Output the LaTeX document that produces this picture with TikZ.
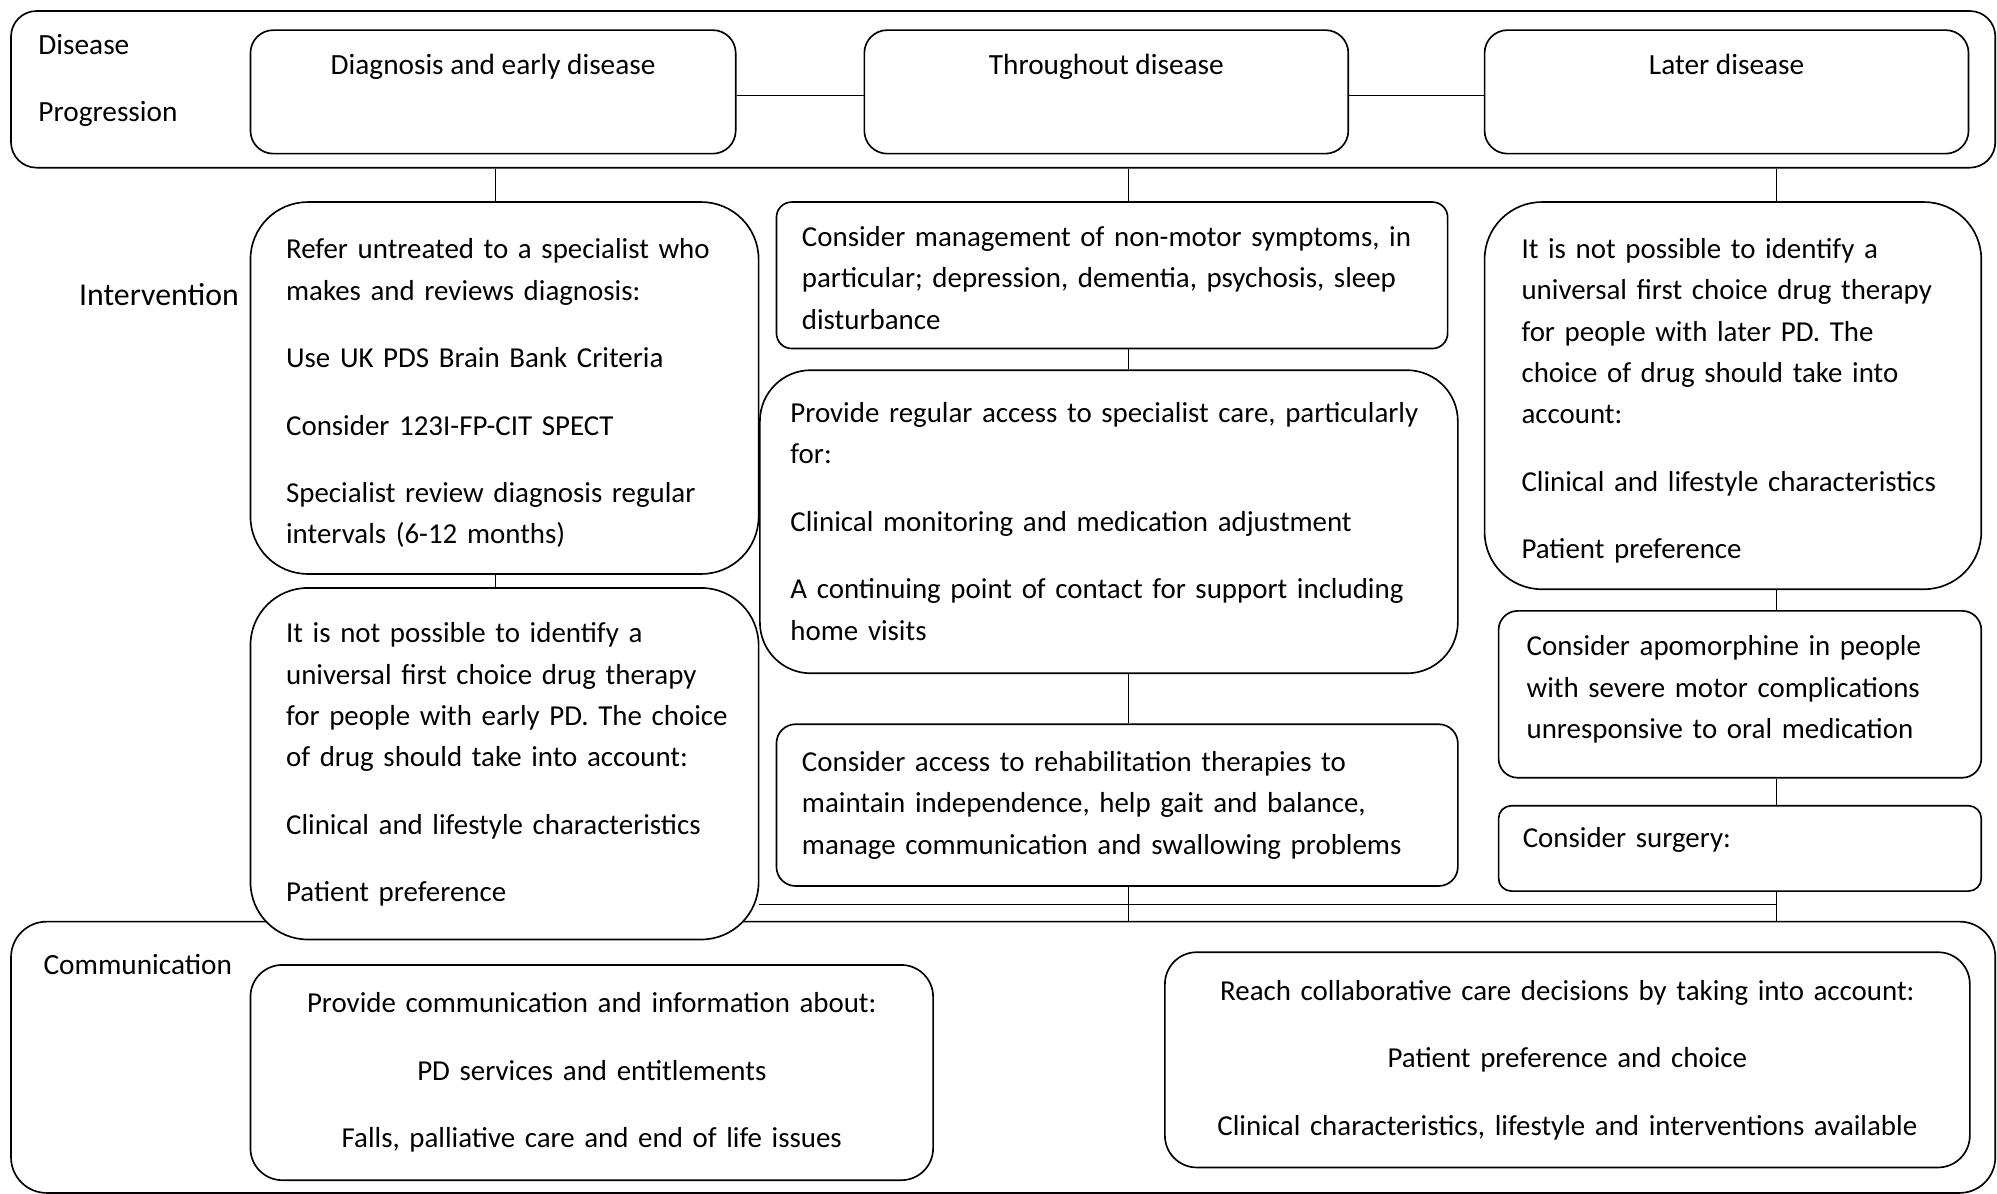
\documentclass[tikz,border=0pt]{standalone}
\usepackage{fontspec}
\setmainfont{Carlito}
\usepackage{tikz}
\usetikzlibrary{backgrounds}
\tikzset{
  band/.style={draw,rounded corners=20pt,anchor=north west,line width=1.3pt,
               inner sep=0pt},
  stage/.style={draw,fill=white,rounded corners=18pt,anchor=north west,line width=1.3pt,
                minimum height=97pt,align=center,text depth=44pt},
  act/.style={draw,fill=white,anchor=north west,line width=1.3pt,align=left,
              inner ysep=0pt,font=\fontsize{22.7}{32.5}\selectfont,text height=24pt},
  talk/.style={draw,fill=white,anchor=north west,line width=1.3pt,align=center,
               rounded corners=25pt,minimum height=169pt,inner ysep=0pt,
               font=\fontsize{22.7}{32.5}\selectfont},
  tag/.style={anchor=west,inner sep=0pt,align=left},
  link/.style={line width=1.2pt},
}

\begin{document}
\begin{tikzpicture}[x=1pt,y=-1pt,every node/.style={font=\fontsize{23}{32.5}\selectfont}]
  \useasboundingbox (0,0) rectangle (1568,937);
  %% Frames
  \node[band,minimum width=1558pt,minimum height=123pt] (prog) at (8,8) {};
  \node[band,minimum width=1558pt,minimum height=213pt,rounded corners=28pt] (comm) at (8,723) {};
  \node[tag] (dis) at (30,63) {Disease\\[20.5pt]Progression};
  \node[tag,font=\fontsize{25}{32.5}\selectfont] (intv) at (62,231) {Intervention};
  \node[tag] (com) at (34,757) {Communication};

  %% Stages
  \node[stage,minimum width=381pt] (diag) at (196,23) {Diagnosis and early disease};
  \node[stage,minimum width=380pt] (thru) at (678,23) {Throughout disease};
  \node[stage,minimum width=380pt] (late) at (1165,23) {Later disease};

  %% Left column
  \node[act,minimum width=399pt,minimum height=292pt,text width=343pt,inner xsep=28pt,
        rounded corners=45pt] (int1) at (196,158)
    {Refer untreated to a specialist who\\makes and reviews diagnosis:\\[20.5pt]
     Use UK PDS Brain Bank Criteria\\[20.5pt]Consider 123I-FP-CIT SPECT\\[20.5pt]
     Specialist review diagnosis regular\\intervals (6-12 months)};
  \node[act,minimum width=399pt,minimum height=276pt,text width=343pt,inner xsep=28pt,
        rounded corners=45pt,text height=17pt] (int2) at (196,461)
    {It is not possible to identify a\\universal first choice drug therapy\\
     \mbox{for people with early PD. The choice}\\of drug should take into account:\\[20.5pt]
     Clinical and lifestyle characteristics\\[20.5pt]Patient preference};

  %% Middle column
  \node[act,minimum width=527pt,minimum height=115pt,text width=487pt,inner xsep=20pt,
        rounded corners=12pt,text height=20pt] (mid1) at (609,158)
    {Consider management of non-motor symptoms, in\\
     particular; depression, dementia, psychosis, sleep\\disturbance};
  \node[act,minimum width=548pt,minimum height=238pt,text width=500pt,inner xsep=24pt,
        rounded corners=40pt,text height=15pt] (mid2) at (596,290)
    {Provide regular access to specialist care, particularly\\for:\\[20.5pt]
     Clinical monitoring and medication adjustment\\[20.5pt]
     A continuing point of contact for support including\\home visits};
  \node[act,minimum width=535pt,minimum height=127pt,text width=495pt,inner xsep=20pt,
        rounded corners=15pt,text height=16pt] (mid3) at (609,568)
    {Consider access to rehabilitation therapies to\\
     maintain independence, help gait and balance,\\
     manage communication and swallowing problems};

  %% Right column
  \node[act,minimum width=390pt,minimum height=304pt,text width=332pt,inner xsep=29pt,
        rounded corners=45pt] (late1) at (1165,158)
    {It is not possible to identify a\\universal first choice drug therapy\\
     for people with later PD. The\\choice of drug should take into\\account:\\[20.5pt]
     Clinical and lifestyle characteristics\\[20.5pt]Patient preference};
  \node[act,minimum width=379pt,minimum height=131pt,text width=335pt,inner xsep=22pt,
        rounded corners=15pt,text height=8pt] (late2) at (1176,479)
    {Consider apomorphine in people\\with severe motor complications\\
     unresponsive to oral medication};
  \node[act,minimum width=379pt,minimum height=67pt,text width=341pt,inner xsep=19pt,
        rounded corners=10pt,text height=16pt,text depth=17pt] (late3) at (1176,632)
    {Consider surgery:};

  %% Communication
  \node[talk,minimum width=536pt,text width=496pt,inner xsep=20pt] (talk1) at (196,757)
    {Provide communication and information about:\\[20.5pt]
     PD services and entitlements\\[20.5pt]Falls, palliative care and end of life issues};
  \node[talk,minimum width=632pt,text width=592pt,inner xsep=20pt] (talk2) at (914,747)
    {Reach collaborative care decisions by taking into account:\\[20.5pt]
     Patient preference and choice\\[20.5pt]
     Clinical characteristics, lifestyle and interventions available};

  %% Connectors
  \coordinate (lx) at (389,0);
  \coordinate (mx) at (886,0);
  \coordinate (rx) at (1395,0);
  \coordinate (bar) at (1395,710);
  \begin{scope}[on background layer]
    \draw[link] ([yshift=-3pt]diag.east) -- ([yshift=-3pt]thru.west);
    \draw[link] ([yshift=-3pt]thru.east) -- ([yshift=-3pt]late.west);
    \draw[link] (prog.south -| lx) -- (int1.north -| lx);
    \draw[link] (int1.south -| lx) -- (int2.north -| lx);
    \draw[link] (prog.south -| mx) -- (mid1.north -| mx);
    \draw[link] (mid1.south -| mx) -- (mid2.north -| mx);
    \draw[link] (mid2.south -| mx) -- (mid3.north -| mx);
    \draw[link] (mid3.south -| mx) -- (comm.north -| mx);
    \draw[link] (prog.south -| rx) -- (late1.north -| rx);
    \draw[link] (late1.south -| rx) -- (late2.north -| rx);
    \draw[link] (late2.south -| rx) -- (late3.north -| rx);
    \draw[link] (late3.south -| rx) -- (comm.north -| rx);
    \draw[link] (int2.east |- bar) -- (bar);
  \end{scope}
\end{tikzpicture}
\end{document}
